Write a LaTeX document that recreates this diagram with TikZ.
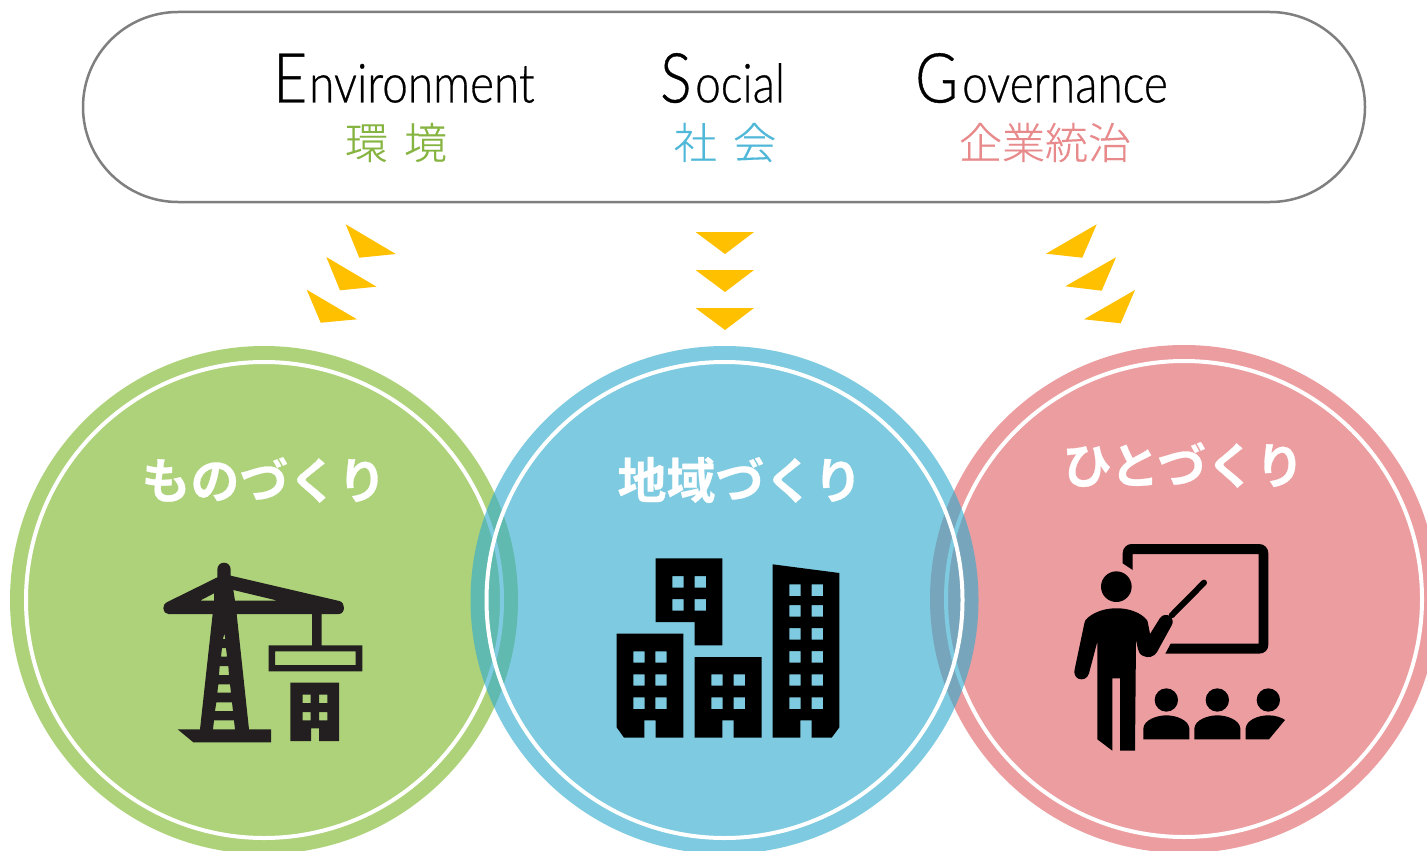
\documentclass[tikz,border=0pt]{standalone}
\usepackage{fontspec}
\setmainfont{Carlito}
\newfontfamily\lat[FakeStretch=0.85,FakeBold=0.5]{Lato Light}
\newfontfamily\jp[WordSpace=1.7,FakeBold=0.3]{Noto Sans CJK JP Light}
\newfontfamily\jpb[FakeBold=0.6]{Noto Sans CJK JP Bold}
\definecolor{cgreen}{HTML}{AED27A}
\definecolor{cblueglass}{HTML}{34ACCE}
\definecolor{cpink}{HTML}{EC9D9F}
\definecolor{tgreen}{HTML}{86B440}
\definecolor{tblue}{HTML}{4FB8D8}
\definecolor{tpink}{HTML}{E8898B}
\definecolor{arrowy}{HTML}{FFC000}
\definecolor{pillgray}{HTML}{7F7F7F}
\definecolor{craneink}{HTML}{231F20}
\tikzset{
  disc/.style={circle,minimum size=508pt,inner sep=0pt,outer sep=0pt,fill=#1},
  ringline/.style={circle,minimum size=476pt,inner sep=0pt,draw=white,line width=4pt},
  pill/.style={rounded corners=95pt,draw=pillgray,line width=2.5pt,fill=white},
  chev/.style={fill=arrowy},
  big/.style={font=\lat\fontsize{69}{69}\selectfont,anchor=base west,inner sep=0pt},
  rest/.style={font=\lat\fontsize{54}{54}\selectfont,anchor=base west,inner sep=0pt},
  sub/.style={font=\jp\fontsize{43}{43}\selectfont,anchor=center,inner sep=0pt},
  heading/.style={font=\jpb\fontsize{49}{49}\selectfont,text=white,anchor=center,inner sep=0pt},
  ink/.style={fill=black,even odd rule},
}
\begin{document}
\begin{tikzpicture}[x=1pt,y=-1pt]
\useasboundingbox (0,0) rectangle (1427,851);
\clip (0,0) rectangle (1427,851);
\fill[white] (0,0) rectangle (1427,851);
% pill
\draw[pill] (83,12) rectangle (1365,202);
% discs
\node[disc=cgreen] (dg) at (264,600) {};
\node[ringline] (rg) at (264,600) {};
\node[disc=cpink] (dp) at (1184,599) {};
\node[ringline] (rp) at (1184,599) {};
\node[disc=cblueglass,fill opacity=.63] (db) at (724.5,600) {};
\node[ringline] (rb) at (724.5,600) {};
% headline text
\node[big] (e) at (273,102.5) {E};
\node[rest] (e2) at (309,102.5) {nvironment};
\node[big] (s) at (660,102.5) {S};
\node[rest] (s2) at (695,102.5) {ocial};
\node[big] (g) at (915,102.5) {G};
\node[rest] (g2) at (962,102.5) {overnance};
\node[sub,text=tgreen] (j1) at (396,142.5) {環 境};
\node[sub,text=tblue] (j2) at (725,142.5) {社 会};
\node[sub,text=tpink] (j3) at (1045,142.5) {企業統治};
% chevrons
\fill[chev] (345.7,224.3)--(395.8,254)--(359.3,257.7)--cycle;
\fill[chev] (326.3,257)--(376.5,286.7)--(340,290.3)--cycle;
\fill[chev] (306.7,289.7)--(357,319.3)--(320.7,322.7)--cycle;
\fill[chev] (695.5,232)--(754,232)--(725,254)--cycle;
\fill[chev] (695.5,270)--(754,270)--(725,292)--cycle;
\fill[chev] (695.5,308)--(754,308)--(725,330)--cycle;
\fill[chev] (1096.7,224.3)--(1046,253.7)--(1082.3,257.7)--cycle;
\fill[chev] (1116,257.3)--(1065.3,286.3)--(1101.7,290.7)--cycle;
\fill[chev] (1135,290)--(1084,319.3)--(1120.7,323.3)--cycle;
% headings
\node[heading] (h1) at (264,480) {ものづくり};
\node[heading] (h2) at (740,480) {地域づくり};
\node[heading] (h3) at (1183.5,465) {ひとづくり};
% crane
\begin{scope}[shift={(140,540)},scale=1/3]
\fill[craneink,even odd rule]
 (232,112)--(232,88) arc[start angle=180,end angle=360,radius=20] --(272,107)--(598,183)
 .. controls (608,186) and (612,195) .. (612,203) .. controls (612,214) and (606,222) .. (596,222)
 --(545,222)--(545,316)--(667,316)--(667,394)--(386,394)--(386,316)--(516,316)--(516,222)--(290,222)
 --(327,568)--(393,568)--(393,607)--(160,607)--(113,568)--(180,568)--(218,222)--(85,222)
 .. controls (76,222) and (70,214) .. (70,205) .. controls (70,197) and (74,190) .. (80,187) --cycle
 (405,334) rectangle (647,375)
 (180,182)--(222,182)--(222,160)--cycle
 (280,150)--(285,182)--(413,182)--cycle
 (253,280)--(256,297)--(249,297)--cycle
 (246,324)--(258,324)--(261,350)--(243,350)--cycle
 (239,378)--(265,378)--(267,405)--(237,405)--cycle
 (235,433)--(270,433)--(273,458)--(232,458)--cycle
 (229,487)--(276,487)--(279,513)--(225,513)--cycle
 (222,541)--(282,541)--(285,568)--(219,568)--cycle;
\fill[craneink,even odd rule]
 (451,428)--(597,428)--(597,603)--(537,603)--(537,565)--(513,565)--(513,603)--(451,603)--cycle
 (488,464) rectangle (512,489) (537,464) rectangle (562,489)
 (488,516) rectangle (512,541) (537,516) rectangle (562,541);
\end{scope}
% buildings
\begin{scope}[shift={(600,540)},scale=1/3]
\fill[ink]
 (167,55)--(367,55)--(367,316)--(284,316)--(284,246)--(167,246)--cycle
 (217,108) rectangle (251,143) (284,108) rectangle (318,143)
 (217,177) rectangle (251,212) (284,177) rectangle (318,212);
\fill[ink]
 (50,281)--(250,281)--(250,593)--(167,593)--(167,541)--(133,541)--(133,593)--(72,593)--(50,562)--cycle
 (100,334) rectangle (134,368) (166,334) rectangle (200,368)
 (100,403) rectangle (134,437) (166,403) rectangle (200,437)
 (100,472) rectangle (134,507) (166,472) rectangle (200,507);
\fill[ink]
 (284,351)--(485,351)--(485,593)--(401,593)--(401,541)--(367,541)--(367,593)--(284,593)--cycle
 (334,403) rectangle (368,437) (401,403) rectangle (435,437)
 (334,472) rectangle (368,507) (401,472) rectangle (435,507);
\fill[ink]
 (518,73)--(718,99)--(718,562)--(695,593)--(635,593)--(635,541)--(601,541)--(601,593)--(518,593)--cycle
 (568,133) rectangle (602,168) (635,133) rectangle (669,168)
 (568,195) rectangle (602,230) (635,195) rectangle (669,230)
 (568,264) rectangle (602,299) (635,264) rectangle (669,299)
 (568,333) rectangle (602,368) (635,333) rectangle (669,368)
 (568,403) rectangle (602,437) (635,403) rectangle (669,437)
 (568,472) rectangle (602,507) (635,472) rectangle (669,507);
\end{scope}
% teacher
\begin{scope}[shift={(1060,530)},scale=1/3]
\fill[ink]
 (188,100)--(188,70) .. controls (188,54) and (200,42) .. (215,42)--(597,42)
 .. controls (613,42) and (625,54) .. (625,70)--(625,345) .. controls (625,360) and (613,371) .. (597,371)
 --(316,371)--(332,341)--(596,341)--(596,72)--(218,72)--(218,120)--cycle;
\fill[black] (169,170) circle[radius=46];
\fill[black]
 (72,285) .. controls (74,272) and (78,266) .. (86,261) .. controls (130,226) and (210,226) .. (252,261)
 .. controls (260,266) and (263,272) .. (265,285)--(270,312)--(300,264)
 .. controls (308,253) and (322,252) .. (331,260) .. controls (339,267) and (340,277) .. (335,286)
 --(291,366) .. controls (283,381) and (263,385) .. (250,378) .. controls (240,374) and (236,366) .. (234,358)
 --(228,330)--(225,662)--(180,662)--(180,445)--(157,445)--(157,662)--(112,628)--(112,335)--(87,430)
 .. controls (83,445) and (68,452) .. (55,446) .. controls (45,441) and (41,430) .. (44,418) --cycle;
\draw[black,line width=6pt,line cap=round] (335,256)--(432,158);
\fill[black] (319,510) circle[radius=35] (472,510) circle[radius=35] (625,510) circle[radius=35];
\fill[black] (250,628)--(250,595) .. controls (252,570) and (290,556) .. (319,556) .. controls (348,556) and (386,570) .. (388,595)--(388,628)--cycle;
\fill[black] (403,628)--(403,595) .. controls (405,570) and (443,556) .. (472,556) .. controls (501,556) and (539,570) .. (541,595)--(541,628)--cycle;
\fill[black] (557,628)--(557,595) .. controls (559,570) and (595,556) .. (625,556) .. controls (645,556) and (665,562) .. (675,570)--(627,628)--cycle;
\end{scope}
\end{tikzpicture}
\end{document}
